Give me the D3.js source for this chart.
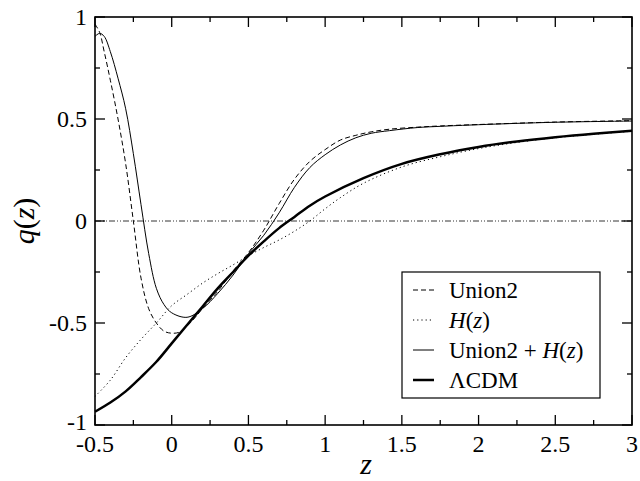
<!DOCTYPE html>
<html><head><meta charset="utf-8">
<script src="https://cdn.jsdelivr.net/npm/d3@7"></script>
<style>body{margin:0;background:#fff}svg{display:block}</style>
</head><body>
<svg id="c" width="640" height="481"></svg>
<script>
// ---- data ----
const xTicks = [-0.5, 0, 0.5, 1, 1.5, 2, 2.5, 3];
const xTickLabels = ["-0.5", "0", "0.5", "1", "1.5", "2", "2.5", "3"];
const yTicks = [-1, -0.5, 0, 0.5, 1];
const yTickLabels = ["-1", "-0.5", "0", "0.5", "1"];

const union2Z = [-0.5,-0.47,-0.44,-0.4,-0.35,-0.3,-0.25,-0.2,-0.15,-0.1,-0.05,0,0.05,0.1,0.15,0.2,0.3,0.4,0.5,0.6,0.7,0.8,0.9,1.0,1.1,1.2,1.3,1.42,1.6,1.75,2.0,2.5,3.0];
const union2Q = [0.965,0.925,0.83,0.69,0.5,0.28,0.0,-0.28,-0.43,-0.5,-0.54,-0.55,-0.545,-0.515,-0.475,-0.43,-0.345,-0.245,-0.155,-0.045,0.085,0.205,0.292,0.35,0.397,0.42,0.437,0.45,0.46,0.466,0.473,0.485,0.492];

const hzZ = [-0.5,-0.4,-0.3,-0.2,-0.1,0,0.1,0.2,0.3,0.4,0.5,0.6,0.7,0.8,0.9,1.0,1.1,1.25,1.5,1.75,2.0,2.25,2.5,2.75,3.0];
const hzQ = [-0.86,-0.78,-0.67,-0.58,-0.50,-0.415,-0.36,-0.305,-0.258,-0.215,-0.17,-0.13,-0.093,-0.05,0.0,0.06,0.115,0.185,0.265,0.315,0.355,0.385,0.408,0.425,0.44];

const combZ = [-0.5,-0.47,-0.44,-0.4,-0.35,-0.3,-0.25,-0.2,-0.15,-0.1,-0.05,0,0.1,0.2,0.3,0.4,0.5,0.6,0.7,0.8,0.9,1.0,1.1,1.2,1.3,1.42,1.6,1.75,2.0,2.5,3.0];
const combQ = [0.905,0.92,0.905,0.83,0.70,0.55,0.33,0.08,-0.16,-0.33,-0.41,-0.45,-0.472,-0.43,-0.355,-0.265,-0.16,-0.07,0.04,0.165,0.262,0.325,0.373,0.408,0.43,0.443,0.458,0.464,0.472,0.484,0.49];

const lcdmZ = [-0.5,-0.4,-0.3,-0.2,-0.1,0,0.1,0.2,0.3,0.4,0.5,0.6,0.7,0.8,0.9,1.0,1.25,1.5,1.75,2.0,2.25,2.5,2.75,3.0];
const lcdmQ = [-0.935,-0.89,-0.835,-0.765,-0.69,-0.60,-0.51,-0.42,-0.33,-0.25,-0.17,-0.10,-0.035,0.02,0.075,0.12,0.21,0.28,0.327,0.363,0.39,0.411,0.428,0.442];

const legendLabels = ["Union2", "H(z)", "Union2 + H(z)", "ΛCDM"];

// ---- drawing ----
const FONT = '"Liberation Serif", "DejaVu Serif", "Noto Serif", Tinos, "Times New Roman", Times, serif';
const svg = d3.select("#c");
const L = 95, R = 632, T = 17, B = 425;
const x = d3.scaleLinear().domain([-0.5, 3]).range([L, R]);
const y = d3.scaleLinear().domain([-1, 1]).range([B, T]);

// zero reference line
svg.append("line").attr("x1", x(-0.5)).attr("x2", x(3)).attr("y1", y(0)).attr("y2", y(0))
  .attr("stroke", "#000").attr("stroke-width", 0.8).attr("stroke-dasharray", "6,2,1,2,1,2");

const line = d3.line().x(d => x(d[0])).y(d => y(d[1])).curve(d3.curveCatmullRom.alpha(0.5));
const series = [
  {z: union2Z, q: union2Q, w: 1, dash: "5,3"},
  {z: hzZ, q: hzQ, w: 1, dash: "1.2,3"},
  {z: combZ, q: combQ, w: 1, dash: null},
  {z: lcdmZ, q: lcdmQ, w: 2.5, dash: null}
];
series.forEach(s => {
  svg.append("path").datum(s.z.map((v, i) => [v, s.q[i]]))
    .attr("d", line).attr("fill", "none").attr("stroke", "#000")
    .attr("stroke-width", s.w).attr("stroke-dasharray", s.dash);
});

// axes with inward ticks on all sides
const xMinor = d3.range(-0.25, 3, 0.5);
const yMinor = [-0.75, -0.25, 0.25, 0.75];
const ax = svg.append("g");
function tickX(v, len) {
  ax.append("line").attr("x1", x(v)).attr("x2", x(v)).attr("y1", B).attr("y2", B - len).attr("stroke", "#000").attr("stroke-width", 1.3);
  ax.append("line").attr("x1", x(v)).attr("x2", x(v)).attr("y1", T).attr("y2", T + len).attr("stroke", "#000").attr("stroke-width", 1.3);
}
function tickY(v, len) {
  ax.append("line").attr("y1", y(v)).attr("y2", y(v)).attr("x1", L).attr("x2", L + len).attr("stroke", "#000").attr("stroke-width", 1.3);
  ax.append("line").attr("y1", y(v)).attr("y2", y(v)).attr("x1", R).attr("x2", R - len).attr("stroke", "#000").attr("stroke-width", 1.3);
}
xTicks.forEach(v => tickX(v, 10)); xMinor.forEach(v => tickX(v, 5));
yTicks.forEach(v => tickY(v, 10)); yMinor.forEach(v => tickY(v, 5));
ax.append("rect").attr("x", L).attr("y", T).attr("width", R - L).attr("height", B - T)
  .attr("fill", "none").attr("stroke", "#000").attr("stroke-width", 1.6);

xTicks.forEach((v, i) => {
  svg.append("text").attr("x", x(v)).attr("y", 452).attr("text-anchor", "middle")
    .style("font-family", FONT).style("font-size", "24px").text(xTickLabels[i]);
});
yTicks.forEach((v, i) => {
  svg.append("text").attr("x", 87).attr("y", y(v) + (v === -1 ? -3 : 0)).attr("dy", "0.33em").attr("text-anchor", "end")
    .style("font-family", FONT).style("font-size", "24px").text(yTickLabels[i]);
});

// axis titles
svg.append("text").attr("x", 366).attr("y", 474).attr("text-anchor", "middle")
  .style("font-family", FONT).style("font-size", "30px").style("font-style", "italic").text("z");
const yl = svg.append("text").attr("transform", "translate(34,221) rotate(-90)").attr("text-anchor", "middle")
  .style("font-family", FONT).style("font-size", "30px");
yl.append("tspan").style("font-style", "italic").text("q");
yl.append("tspan").text("(");
yl.append("tspan").style("font-style", "italic").text("z");
yl.append("tspan").text(")");

// legend
const lg = svg.append("g");
lg.append("rect").attr("x", 402).attr("y", 272).attr("width", 198).attr("height", 126)
  .attr("fill", "#fff").attr("stroke", "#000").attr("stroke-width", 1.2);
series.forEach((s, i) => {
  const yy = 290 + i * 30;
  lg.append("line").attr("x1", 413).attr("x2", 434).attr("y1", yy).attr("y2", yy)
    .attr("stroke", "#000").attr("stroke-width", s.w).attr("stroke-dasharray", s.dash);
  const t = lg.append("text").attr("x", 449).attr("y", yy).attr("dy", "0.33em")
    .style("font-family", FONT).style("font-size", "23px");
  const lab = legendLabels[i];
  const m = lab.indexOf("H(z)");
  if (m >= 0) {
    if (m > 0) t.append("tspan").text(lab.slice(0, m));
    t.append("tspan").style("font-style", "italic").text("H");
    t.append("tspan").text("(");
    t.append("tspan").style("font-style", "italic").text("z");
    t.append("tspan").text(")");
  } else t.text(lab);
});
</script>
</body></html>
